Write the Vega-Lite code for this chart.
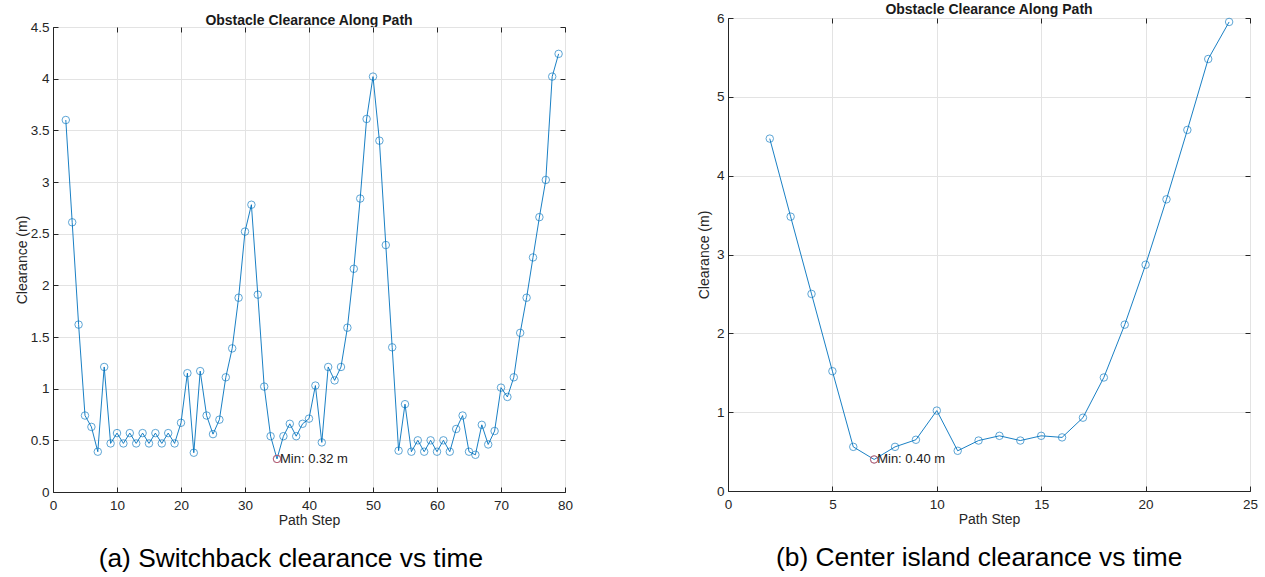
{
  "$schema": "https://vega.github.io/schema/vega-lite/v6.json",
  "background": "white",
  "padding": {"left": 14, "top": 2, "right": 5, "bottom": 5},
  "datasets": {
    "a": [
      {"step": 2, "clearance": 3.60}, {"step": 3, "clearance": 2.61}, {"step": 4, "clearance": 1.62},
      {"step": 5, "clearance": 0.74}, {"step": 6, "clearance": 0.63}, {"step": 7, "clearance": 0.39},
      {"step": 8, "clearance": 1.21}, {"step": 9, "clearance": 0.47}, {"step": 10, "clearance": 0.57},
      {"step": 11, "clearance": 0.47}, {"step": 12, "clearance": 0.57}, {"step": 13, "clearance": 0.47},
      {"step": 14, "clearance": 0.57}, {"step": 15, "clearance": 0.47}, {"step": 16, "clearance": 0.57},
      {"step": 17, "clearance": 0.47}, {"step": 18, "clearance": 0.57}, {"step": 19, "clearance": 0.47},
      {"step": 20, "clearance": 0.67}, {"step": 21, "clearance": 1.15}, {"step": 22, "clearance": 0.38},
      {"step": 23, "clearance": 1.17}, {"step": 24, "clearance": 0.74}, {"step": 25, "clearance": 0.56},
      {"step": 26, "clearance": 0.70}, {"step": 27, "clearance": 1.11}, {"step": 28, "clearance": 1.39},
      {"step": 29, "clearance": 1.88}, {"step": 30, "clearance": 2.52}, {"step": 31, "clearance": 2.78},
      {"step": 32, "clearance": 1.91}, {"step": 33, "clearance": 1.02}, {"step": 34, "clearance": 0.54},
      {"step": 35, "clearance": 0.32}, {"step": 36, "clearance": 0.54}, {"step": 37, "clearance": 0.66},
      {"step": 38, "clearance": 0.54}, {"step": 39, "clearance": 0.66}, {"step": 40, "clearance": 0.71},
      {"step": 41, "clearance": 1.03}, {"step": 42, "clearance": 0.48}, {"step": 43, "clearance": 1.21},
      {"step": 44, "clearance": 1.08}, {"step": 45, "clearance": 1.21}, {"step": 46, "clearance": 1.59},
      {"step": 47, "clearance": 2.16}, {"step": 48, "clearance": 2.84}, {"step": 49, "clearance": 3.61},
      {"step": 50, "clearance": 4.02}, {"step": 51, "clearance": 3.40}, {"step": 52, "clearance": 2.39},
      {"step": 53, "clearance": 1.40}, {"step": 54, "clearance": 0.40}, {"step": 55, "clearance": 0.85},
      {"step": 56, "clearance": 0.39}, {"step": 57, "clearance": 0.50}, {"step": 58, "clearance": 0.39},
      {"step": 59, "clearance": 0.50}, {"step": 60, "clearance": 0.39}, {"step": 61, "clearance": 0.50},
      {"step": 62, "clearance": 0.39}, {"step": 63, "clearance": 0.61}, {"step": 64, "clearance": 0.74},
      {"step": 65, "clearance": 0.39}, {"step": 66, "clearance": 0.36}, {"step": 67, "clearance": 0.65},
      {"step": 68, "clearance": 0.46}, {"step": 69, "clearance": 0.59}, {"step": 70, "clearance": 1.01},
      {"step": 71, "clearance": 0.92}, {"step": 72, "clearance": 1.11}, {"step": 73, "clearance": 1.54},
      {"step": 74, "clearance": 1.88}, {"step": 75, "clearance": 2.27}, {"step": 76, "clearance": 2.66},
      {"step": 77, "clearance": 3.02}, {"step": 78, "clearance": 4.02}, {"step": 79, "clearance": 4.24}
    ],
    "aMin": [{"step": 35, "clearance": 0.32, "label": "Min: 0.32 m"}],
    "b": [
      {"step": 2, "clearance": 4.47}, {"step": 3, "clearance": 3.48}, {"step": 4, "clearance": 2.50},
      {"step": 5, "clearance": 1.52}, {"step": 6, "clearance": 0.56}, {"step": 7, "clearance": 0.40},
      {"step": 8, "clearance": 0.56}, {"step": 9, "clearance": 0.65}, {"step": 10, "clearance": 1.02},
      {"step": 11, "clearance": 0.51}, {"step": 12, "clearance": 0.64}, {"step": 13, "clearance": 0.70},
      {"step": 14, "clearance": 0.64}, {"step": 15, "clearance": 0.70}, {"step": 16, "clearance": 0.68},
      {"step": 17, "clearance": 0.93}, {"step": 18, "clearance": 1.44}, {"step": 19, "clearance": 2.11},
      {"step": 20, "clearance": 2.87}, {"step": 21, "clearance": 3.70}, {"step": 22, "clearance": 4.58},
      {"step": 23, "clearance": 5.48}, {"step": 24, "clearance": 5.95}
    ],
    "bMin": [{"step": 7, "clearance": 0.40, "label": "Min: 0.40 m"}],
    "spacer": [{"k": 1}]
  },
  "config": {
    "font": "Liberation Sans",
    "view": {"stroke": "#262626", "strokeWidth": 1},
    "axis": {
      "labelFont": "Liberation Sans", "labelFontSize": 13.5, "labelColor": "#262626",
      "titleFont": "Liberation Sans", "titleFontSize": 14, "titleFontWeight": "normal", "titleColor": "#262626",
      "domainColor": "#262626", "tickColor": "#262626", "gridColor": "#e3e3e3", "gridWidth": 1,
      "tickSize": -5, "labelPadding": 9, "titlePadding": 1, "labelFlush": false
    },
    "axisX": {"labelPadding": 11, "titlePadding": 2, "labelFlush": false},
    "title": {"font": "Liberation Sans", "fontSize": 14, "fontWeight": "bold", "color": "#1a1a1a", "offset": -6}
  },
  "columns": 2,
  "align": "none",
  "spacing": 123,
  "concat": [
    {
      "title": {"text": "(a) Switchback clearance vs time", "orient": "bottom", "anchor": "middle", "dx": -3, "fontSize": 26.3, "fontWeight": "normal", "color": "#000000", "offset": 18},
      "bounds": "flush",
      "spacing": 8,
      "vconcat": [
        {
          "width": 512, "height": 1,
          "view": {"stroke": null},
          "title": {"text": "Obstacle Clearance Along Path", "offset": -12},
          "data": {"name": "spacer"},
          "mark": {"type": "point", "opacity": 0},
          "encoding": {}
        },
        {
          "width": 512, "height": 465,
          "resolve": {"axis": {"x": "independent", "y": "independent"}},
          "layer": [
            {
              "data": {"name": "a"},
              "mark": {"type": "line", "color": "#0072BD", "strokeWidth": 0.9},
              "encoding": {
                "x": {"field": "step", "type": "quantitative", "scale": {"domain": [0, 80], "nice": false}, "axis": {"title": "Path Step", "values": [0,10,20,30,40,50,60,70,80], "grid": true}},
                "y": {"field": "clearance", "type": "quantitative", "scale": {"domain": [0, 4.5], "nice": false}, "axis": {"title": "Clearance (m)", "format": "~g", "values": [0,0.5,1,1.5,2,2.5,3,3.5,4,4.5], "grid": true}}
              }
            },
            {
              "data": {"name": "a"},
              "mark": {"type": "point", "shape": "circle", "filled": false, "color": "#0072BD", "size": 56, "strokeWidth": 0.9},
              "encoding": {
                "x": {"field": "step", "type": "quantitative", "axis": {"orient": "top", "labels": false, "labelPadding": 5, "title": null, "grid": false, "domain": false, "values": [0,10,20,30,40,50,60,70,80]}},
                "y": {"field": "clearance", "type": "quantitative", "axis": {"orient": "right", "labels": false, "labelPadding": 5, "title": null, "grid": false, "domain": false, "values": [0,0.5,1,1.5,2,2.5,3,3.5,4,4.5]}}
              }
            },
            {
              "data": {"name": "aMin"},
              "mark": {"type": "point", "shape": "circle", "filled": false, "color": "#ff3333", "size": 56, "strokeWidth": 0.9},
              "encoding": {
                "x": {"field": "step", "type": "quantitative", "axis": null},
                "y": {"field": "clearance", "type": "quantitative", "axis": null}
              }
            },
            {
              "data": {"name": "aMin"},
              "mark": {"type": "text", "align": "left", "baseline": "middle", "dx": 3, "fontSize": 13, "color": "#1a1a1a"},
              "encoding": {
                "x": {"field": "step", "type": "quantitative", "axis": null},
                "y": {"field": "clearance", "type": "quantitative", "axis": null},
                "text": {"field": "label"}
              }
            }
          ]
        }
      ]
    },
    {
      "title": {"text": "(b) Center island clearance vs time", "orient": "bottom", "anchor": "middle", "dx": 1.5, "fontSize": 26.3, "fontWeight": "normal", "color": "#000000", "offset": 18},
      "vconcat": [
        {
          "width": 522, "height": 473,
          "title": {"text": "Obstacle Clearance Along Path"},
          "resolve": {"axis": {"x": "independent", "y": "independent"}},
          "layer": [
            {
              "data": {"name": "b"},
              "mark": {"type": "line", "color": "#0072BD", "strokeWidth": 0.9},
              "encoding": {
                "x": {"field": "step", "type": "quantitative", "scale": {"domain": [0, 25], "nice": false}, "axis": {"title": "Path Step", "values": [0,5,10,15,20,25], "grid": true}},
                "y": {"field": "clearance", "type": "quantitative", "scale": {"domain": [0, 6], "nice": false}, "axis": {"title": "Clearance (m)", "titlePadding": 4.5, "values": [0,1,2,3,4,5,6], "grid": true}}
              }
            },
            {
              "data": {"name": "b"},
              "mark": {"type": "point", "shape": "circle", "filled": false, "color": "#0072BD", "size": 56, "strokeWidth": 0.9},
              "encoding": {
                "x": {"field": "step", "type": "quantitative", "axis": {"orient": "top", "labels": false, "labelPadding": 5, "title": null, "grid": false, "domain": false, "values": [0,5,10,15,20,25]}},
                "y": {"field": "clearance", "type": "quantitative", "axis": {"orient": "right", "labels": false, "labelPadding": 5, "title": null, "grid": false, "domain": false, "values": [0,1,2,3,4,5,6]}}
              }
            },
            {
              "data": {"name": "bMin"},
              "mark": {"type": "point", "shape": "circle", "filled": false, "color": "#ff3333", "size": 56, "strokeWidth": 0.9},
              "encoding": {
                "x": {"field": "step", "type": "quantitative", "axis": null},
                "y": {"field": "clearance", "type": "quantitative", "axis": null}
              }
            },
            {
              "data": {"name": "bMin"},
              "mark": {"type": "text", "align": "left", "baseline": "middle", "dx": 3, "fontSize": 13, "color": "#1a1a1a"},
              "encoding": {
                "x": {"field": "step", "type": "quantitative", "axis": null},
                "y": {"field": "clearance", "type": "quantitative", "axis": null},
                "text": {"field": "label"}
              }
            }
          ]
        }
      ]
    }
  ]
}
